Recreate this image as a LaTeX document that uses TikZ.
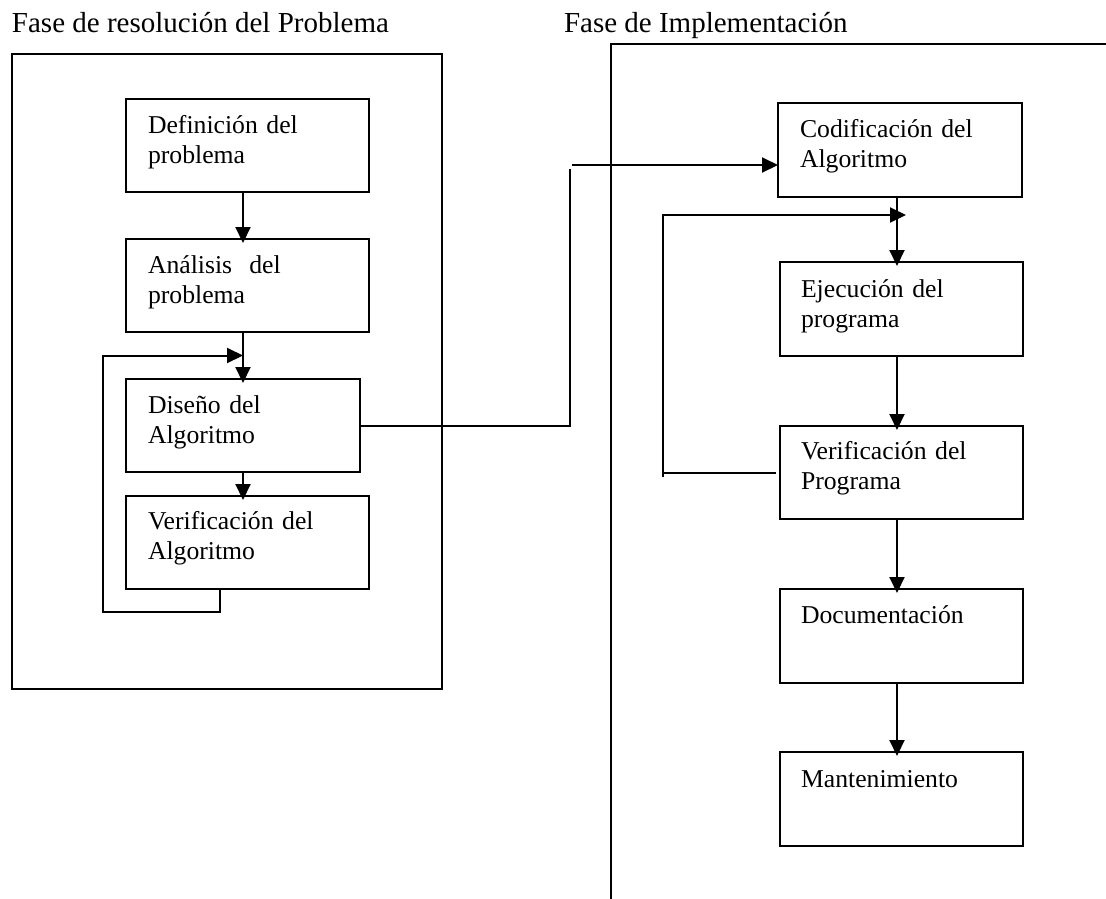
\documentclass[tikz,border=0pt]{standalone}
\usepackage{fontspec}
\setmainfont{Liberation Serif}
\usetikzlibrary{arrows.meta,calc}

\begin{document}
\begin{tikzpicture}[x=1pt,y=-1pt,line width=2pt,
  box/.style={draw,line width=2pt,anchor=north west,inner sep=0pt,outer sep=0pt},
  txt/.style={anchor=base west,inner sep=0pt,text width=230pt,align=left,
              font=\fontsize{25.7}{30}\selectfont},
  title/.style={anchor=base west,inner sep=0pt,font=\fontsize{29}{34}\selectfont},
  arr/.style={-{Triangle[length=16pt,width=15pt]}},
  down/.style={arr,shorten >=-4pt}]

\useasboundingbox (0,0) rectangle (1106,898);

% phase headings
\node[title] (t1) at (11,32) {Fase de resolución del Problema};
\node[title] (t2) at (563,32) {Fase de Implementación};

% frame of the problem-solving phase
\node[box,minimum width=430pt,minimum height=635pt] (fr1) at (12,54) {};

% open frame of the implementation phase
\coordinate (fr2r) at (1108,44);
\coordinate (fr2c) at (611,44);
\coordinate (fr2b) at (611,900);
\draw (fr2r) -- (fr2c) -- (fr2b);

% problem-solving steps
\node[box,minimum width=243pt,minimum height=93pt] (def) at (126,99) {};
\node[box,minimum width=243pt,minimum height=93pt] (ana) at (126,239) {};
\node[box,minimum width=234pt,minimum height=93pt] (dis) at (126,379) {};
\node[box,minimum width=243pt,minimum height=93pt] (ver) at (126,496) {};

\node[txt] (def-t) at ($(def.north west)+(21,34)$) {Definición del\\problema};
\node[txt] (ana-t) at ($(ana.north west)+(21,34)$) {Análisis~ del\\problema};
\node[txt] (dis-t) at ($(dis.north west)+(21,34)$) {Diseño del\\Algoritmo};
\node[txt] (ver-t) at ($(ver.north west)+(21,33)$) {Verificación del\\Algoritmo};

% implementation steps
\node[box,minimum width=244pt,minimum height=94pt] (cod) at (778,103) {};
\node[box,minimum width=243pt,minimum height=94pt] (eje) at (780,262) {};
\node[box,minimum width=243pt,minimum height=93pt] (vpr) at (780,426) {};
\node[box,minimum width=243pt,minimum height=94pt] (doc) at (780,589) {};
\node[box,minimum width=243pt,minimum height=94pt] (man) at (780,752) {};

\node[txt] (cod-t) at ($(cod.north west)+(21,34)$) {Codificación del\\Algoritmo};
\node[txt] (eje-t) at ($(eje.north west)+(20,35)$) {Ejecución del\\programa};
\node[txt] (vpr-t) at ($(vpr.north west)+(20,33)$) {Verificación del\\Programa};
\node[txt] (doc-t) at ($(doc.north west)+(20,34)$) {Documentación};
\node[txt] (man-t) at ($(man.north west)+(20,35)$) {Mantenimiento};

% flow in the left column
\draw[down] (def.south -| dis.north) -- (ana.north -| dis.north);
\draw[down] (ana.south -| dis.north) -- (dis.north);
\draw[down] (dis.south) -- (ver.north -| dis.south);

% return loop from verification back to design
\coordinate (lloop) at (103,612);
\coordinate (lmerge) at ($(ana.south -| dis.north)!0.5!(dis.north)$);
\draw[arr] ($(ver.south west)+(94,0)$) |- (lloop) |- (lmerge);

% hand-over from design to coding
\coordinate (jog) at (570,169);
\coordinate (feed) at (572,165);
\draw (dis.east) -| (jog);
\draw[arr] (feed) -- (cod.west |- feed);

% flow in the right column
\coordinate (rx) at (897,0);
\draw[down] (cod.south -| rx) -- (eje.north -| rx);
\draw[down] (eje.south -| rx) -- (vpr.north -| rx);
\draw[down] (vpr.south -| rx) -- (doc.north -| rx);
\draw[down] (doc.south -| rx) -- (man.north -| rx);

% return loop from program verification back to execution
\coordinate (rloop) at (663,477);
\coordinate (rtip) at (906,215);
\draw[arr] (rloop) |- (rtip);
\draw (rloop |- vpr.west) -- ($(vpr.west)+(-4,0)$);

\end{tikzpicture}
\end{document}
